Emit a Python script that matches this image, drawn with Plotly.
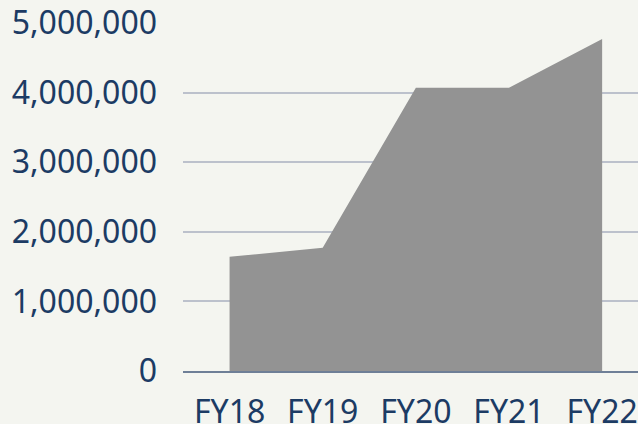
import plotly.graph_objects as go

categories = ["FY18", "FY19", "FY20", "FY21", "FY22"]
values = [1640000, 1770000, 4070000, 4070000, 4770000]
y_ticks = [0, 1000000, 2000000, 3000000, 4000000, 5000000]

text_color = "#1c3b64"
bg = "#f4f5f0"

fig = go.Figure()
fig.add_trace(go.Scatter(
    x=categories, y=values, fill="tozeroy", mode="none",
    fillcolor="#939393", hoverinfo="skip", showlegend=False,
))

fig.update_layout(
    width=638, height=424,
    margin=dict(l=183, r=0, t=23, b=53, autoexpand=False),
    paper_bgcolor=bg, plot_bgcolor=bg,
    font=dict(family="Noto Sans", size=32, color=text_color),
)
fig.update_xaxes(
    type="category", range=[-0.5, 4.385], automargin=False,
    showgrid=False, showline=True, linecolor="#6e7f97", linewidth=2,
    ticks="", ticklabelstandoff=12,
    tickfont=dict(size=32, color=text_color),
)
fig.update_yaxes(
    range=[0, 5000000], tickvals=y_ticks, automargin=False,
    ticktext=[f"{v:,}" for v in y_ticks],
    showgrid=True, gridcolor="#bcc1cc", gridwidth=2,
    zeroline=False, showline=False, ticks="",
    ticklabelstandoff=25,
    tickfont=dict(size=32, color=text_color),
)

fig.write_html(
    "out.html",
    config={"displayModeBar": False},
    post_script="document.body.style.margin='0';document.body.style.overflow='hidden';",
)
